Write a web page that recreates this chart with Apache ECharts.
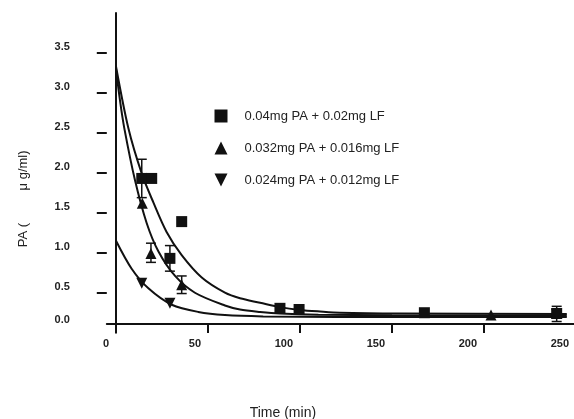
<!DOCTYPE html>
<html><head><meta charset="utf-8">
<script src="https://cdn.jsdelivr.net/npm/echarts@6/dist/echarts.min.js"></script>
<style>html,body{margin:0;padding:0;background:#fff}#c{width:574px;height:419px}</style>
</head><body><div id="c"></div>
<script>
const seriesNames = ['0.04mg PA + 0.02mg LF', '0.032mg PA + 0.016mg LF', '0.024mg PA + 0.012mg LF'];
const squarePoints = [[14.0, 1.93], [19.4, 1.93], [29.3, 0.93], [35.7, 1.39], [89.1, 0.305], [99.5, 0.29], [167.6, 0.25], [239.5, 0.24]];
const trianglePoints = [[14.3, 1.62], [19.0, 0.99], [35.7, 0.60], [203.8, 0.22], [239.5, 0.245]];
const invTrianglePoints = [[14.0, 0.62], [29.3, 0.37], [239.5, 0.23]];
const errorBars = [[14.0, 1.69, 2.17], [29.3, 0.77, 1.09], [19.0, 0.88, 1.12], [35.7, 0.49, 0.71], [239.5, 0.14, 0.33]];
const squareFit = [[0, 3.33], [6.7, 2.56], [14, 1.99], [20.3, 1.63], [27.5, 1.26], [35.7, 0.97], [46.6, 0.69], [59.2, 0.50], [67.4, 0.43], [78.3, 0.375], [89.1, 0.32], [100, 0.285], [110.9, 0.265], [121.7, 0.25], [154.3, 0.24], [245, 0.235]];
const triangleFit = [[0, 3.3], [2.2, 2.9], [4.5, 2.56], [10.3, 1.91], [16.7, 1.37], [23, 1.02], [32.1, 0.71], [42.9, 0.50], [59.2, 0.34], [67.4, 0.29], [78.3, 0.26], [89, 0.24], [110, 0.225], [150, 0.218], [245, 0.215]];
const invTriangleFit = [[0, 1.15], [8.5, 0.80], [17.6, 0.555], [30.3, 0.35], [44.7, 0.26], [59.2, 0.22], [80, 0.203], [120, 0.197], [245, 0.195]];
const xTickValues = [0, 50, 100, 150, 200];
const xLabelValues = [0, 50, 100, 150, 200, 250];
const yTickValues = [0.5, 1.0, 1.5, 2.0, 2.5, 3.0, 3.5];
const yLabelValues = [0, 0.5, 1.0, 1.5, 2.0, 2.5, 3.0, 3.5];

const FONT = '"Liberation Sans", Arial, sans-serif';
const INK = '#111';
const chart = echarts.init(document.getElementById('c'));

function fitLine(data) {
  return {
    type: 'line', data: data, smooth: 0.3, showSymbol: false, symbol: 'none',
    lineStyle: { color: INK, width: 2 }, silent: true, z: 2, yAxisIndex: 0
  };
}

chart.setOption({
  animation: false,
  backgroundColor: '#fff',
  grid: { left: 106.8, right: -2, top: 13, bottom: 86.3, containLabel: false, outerBoundsMode: 'none' },
  legend: {
    data: seriesNames, orient: 'vertical', left: 209.5, top: 104.5,
    itemWidth: 13, itemHeight: 13, itemGap: 19,
    textStyle: { fontFamily: FONT, fontSize: 13, color: '#222', padding: [0, 0, 0, 12] }
  },
  xAxis: {
    type: 'value', min: -5, max: 250, offset: -8.7,
    axisLine: { onZero: false, lineStyle: { color: INK, width: 2 } },
    axisTick: { customValues: xTickValues, length: 9, lineStyle: { color: INK, width: 2 } },
    axisLabel: { customValues: xLabelValues, margin: 14, align: 'right', padding: [0, 7, 0, 0],
      fontFamily: FONT, fontSize: 11, fontWeight: 'bold', color: '#222' },
    splitLine: { show: false },
    name: 'Time (min)', nameLocation: 'middle', nameGap: 82, nameMoveOverlap: false,
    nameTextStyle: { fontFamily: FONT, fontSize: 14, color: '#222', padding: [0, 117, 0, 0] }
  },
  yAxis: [{
    type: 'value', min: 0, max: 4,
    axisLine: { show: false, onZero: false },
    axisTick: { customValues: yTickValues, length: 10, lineStyle: { color: INK, width: 2 } },
    axisLabel: { customValues: yLabelValues, margin: 37,
      formatter: function (v) { return v === 0 ? '{z|0.0}' : '{n|' + v.toFixed(1) + '}'; },
      rich: {
        n: { fontFamily: FONT, fontSize: 11, fontWeight: 'bold', color: '#222', padding: [0, 0, 11, 0] },
        z: { fontFamily: FONT, fontSize: 11, fontWeight: 'bold', color: '#222', padding: [0, 0, 25, 0] }
      } },
    splitLine: { show: false },
    name: 'PA (         \u03bc g/ml)', nameLocation: 'middle', nameGap: 77, nameMoveOverlap: false,
    nameTextStyle: { fontFamily: FONT, fontSize: 13, color: '#222', padding: [0, 52, 0, 0] }
  }, {
    type: 'value', min: 0, max: 4, position: 'left',
    axisLine: { show: true, onZero: true, lineStyle: { color: INK, width: 2 } },
    axisTick: { show: false }, axisLabel: { show: false }, splitLine: { show: false }
  }],
  series: [
    fitLine(squareFit), fitLine(triangleFit), fitLine(invTriangleFit),
    {
      type: 'custom', data: errorBars, silent: true, z: 3, yAxisIndex: 0,
      renderItem: function (params, api) {
        const x = api.value(0);
        const top = api.coord([x, api.value(2)]);
        const bot = api.coord([x, api.value(1)]);
        const st = { stroke: INK, lineWidth: 1.5 };
        return { type: 'group', children: [
          { type: 'line', shape: { x1: top[0], y1: top[1], x2: bot[0], y2: bot[1] }, style: st },
          { type: 'line', shape: { x1: top[0] - 5, y1: top[1], x2: top[0] + 5, y2: top[1] }, style: st },
          { type: 'line', shape: { x1: bot[0] - 5, y1: bot[1], x2: bot[0] + 5, y2: bot[1] }, style: st }
        ] };
      }
    },
    { name: seriesNames[0], type: 'scatter', data: squarePoints, symbol: 'rect', symbolSize: 11,
      itemStyle: { color: INK, opacity: 1 }, z: 4, yAxisIndex: 0 },
    { name: seriesNames[1], type: 'scatter', data: trianglePoints, symbol: 'triangle', symbolSize: 11,
      itemStyle: { color: INK, opacity: 1 }, z: 4, yAxisIndex: 0 },
    { name: seriesNames[2], type: 'scatter', data: invTrianglePoints, symbol: 'path://M0,0 L10,0 L5,10 Z', symbolSize: 11,
      itemStyle: { color: INK, opacity: 1 }, z: 4, yAxisIndex: 0 }
  ]
});
</script>
</body></html>
